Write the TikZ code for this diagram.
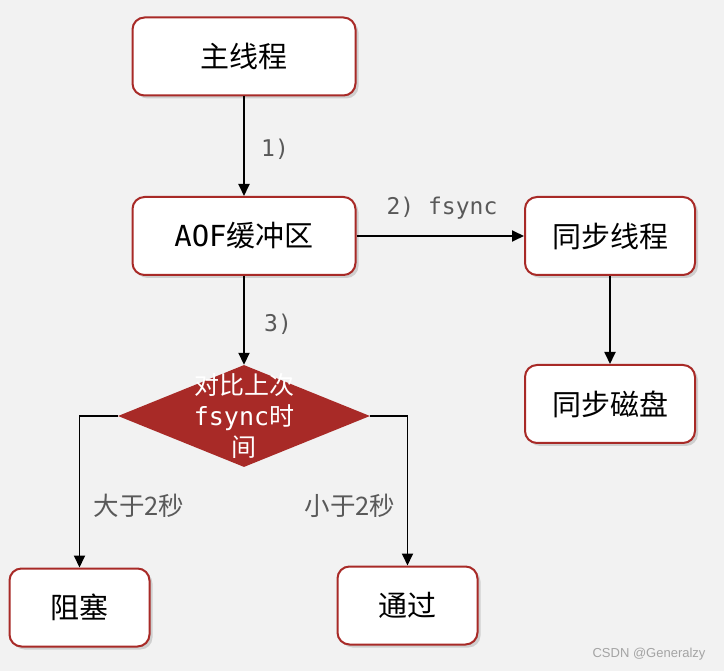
\documentclass[tikz,border=0pt]{standalone}
\usepackage{fontspec}
\setmainfont{Noto Sans CJK SC}
\setmonofont{DejaVu Sans Mono}
\newfontfamily\wmfont{Liberation Sans}
\usepackage{tikz}
\usetikzlibrary{arrows.meta,shapes.geometric,shadows}
\definecolor{rdRed}{HTML}{A82A27}
\definecolor{rdInk}{HTML}{000000}
\definecolor{rdGrey}{HTML}{595959}
\definecolor{rdPaper}{HTML}{F2F2F2}
\tikzset{
  box/.style      ={draw=rdRed,line width=2pt,rounded corners=12pt,fill=white,
                    minimum height=78pt,inner sep=0pt,
                    font=\fontsize{29}{34}\selectfont,
                    drop shadow={shadow xshift=3pt,shadow yshift=-3pt,opacity=0.3}},
  widebox/.style  ={box,minimum width=223pt},
  midbox/.style   ={box,minimum width=170pt},
  smallbox/.style ={box,minimum width=140pt},
  decision/.style ={diamond,fill=rdRed,minimum width=252pt,minimum height=102pt,inner sep=0pt},
  dlbl/.style     ={text=white,align=center,inner sep=0pt,font=\fontsize{25}{31}\selectfont},
  flow/.style     ={-{Triangle[length=12pt,width=11pt]},rdInk,line width=1.8pt},
  lbl/.style      ={text=rdGrey,font=\fontsize{25.5}{28}\selectfont},
  tlbl/.style     ={text=rdGrey,font=\ttfamily\fontsize{23}{26}\selectfont},
  wm/.style       ={text=rdGrey!55,font=\wmfont\fontsize{13}{15}\selectfont},
}
\begin{document}
\begin{tikzpicture}[x=1pt,y=-1pt]
\fill[rdPaper] (0,0) rectangle (724,671);
\useasboundingbox (0,0) rectangle (724,671);

\node[widebox] (main) at (244,56.5) {主线程};
\node[widebox] (aof)  at (244,236)  {\texttt{AOF}缓冲区};
\node[midbox]  (sync) at (610,236)  {同步线程};
\node[midbox]  (disk) at (610,404)  {同步磁盘};
\node[decision,label={[dlbl]center:{对比上次\\\texttt{fsync}时\\间}}] (cmp) at (244,416) {};
\node[smallbox] (block) at (79.5,607.5) {阻塞};
\node[smallbox] (pass)  at (407.5,605.5) {通过};

\draw[flow] (main) -- (aof);
\draw[flow] (aof) -- (sync);
\draw[flow] (aof) -- (cmp);
\draw[flow] (sync) -- (disk);
\draw[flow] (cmp.west) -| (block.north);
\draw[flow] (cmp.east) -| (pass.north);

\node[tlbl] at (275,149) {1)};
\node[tlbl] at (442,208) {2) fsync};
\node[tlbl] at (278,324) {3)};
\node[lbl]  at (139,506) {大于2秒};
\node[lbl]  at (350,506) {小于2秒};

\node[wm,anchor=east] (mark) at (709,654) {CSDN @Generalzy};
\end{tikzpicture}
\end{document}
